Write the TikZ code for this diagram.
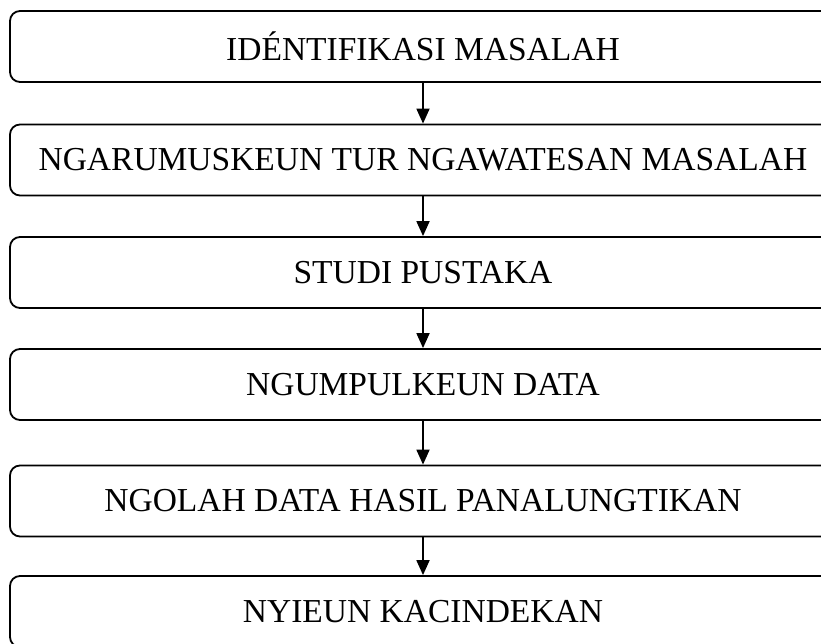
\documentclass[tikz,border=0pt]{standalone}
\usepackage{fontspec}
\setmainfont{Liberation Serif}
\usetikzlibrary{arrows.meta}
\begin{document}
\begin{tikzpicture}[x=1pt,y=-1pt,
  stepbox/.style={draw, line width=1.8pt, rounded corners=10pt, minimum width=826pt, minimum height=71pt, inner sep=0pt, font=\fontsize{33.5}{36}\selectfont},
  arr/.style={line width=1.8pt, -{Triangle[length=15pt,width=13pt]}}]
\useasboundingbox (0,0) rectangle (821,643);
\node[stepbox] (b1) at (423,46.5) {IDÉNTIFIKASI MASALAH};
\node[stepbox] (b2) at (423,160) {NGARUMUSKEUN TUR NGAWATESAN MASALAH};
\node[stepbox] (b3) at (423,272.5) {STUDI PUSTAKA};
\node[stepbox] (b4) at (423,384.5) {NGUMPULKEUN DATA};
\node[stepbox] (b5) at (423,501) {NGOLAH DATA HASIL PANALUNGTIKAN};
\node[stepbox] (b6) at (423,611.5) {NYIEUN KACINDEKAN};
\draw[arr] (b1) -- (b2);
\draw[arr] (b2) -- (b3);
\draw[arr] (b3) -- (b4);
\draw[arr] (b4) -- (b5);
\draw[arr] (b5) -- (b6);
\end{tikzpicture}
\end{document}
